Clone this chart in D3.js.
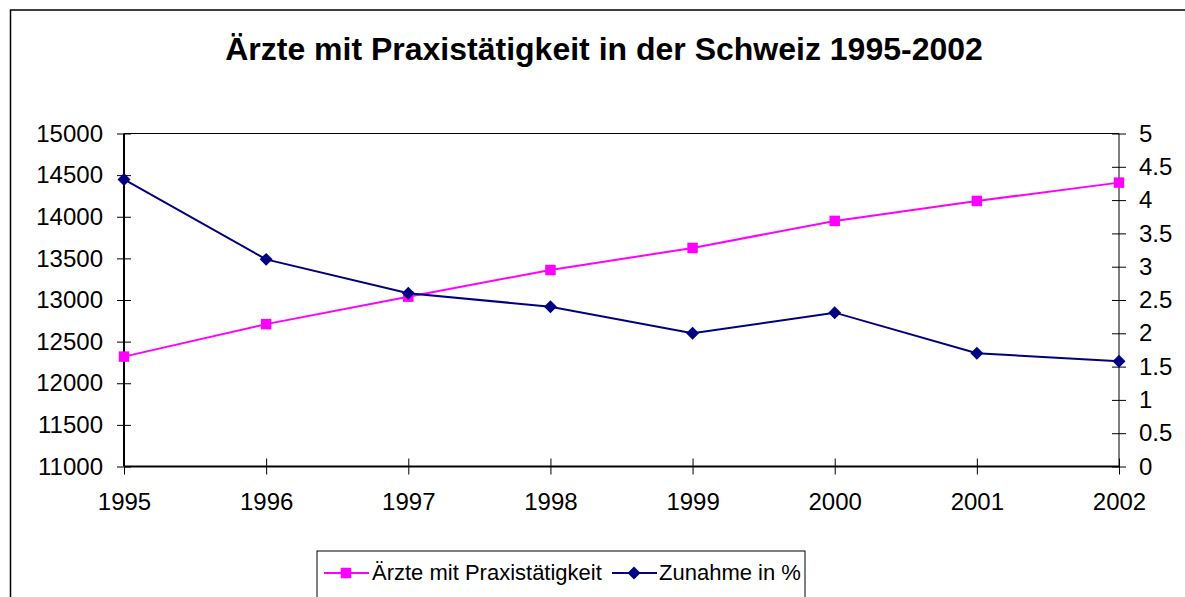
<!DOCTYPE html>
<meta charset="utf-8">
<style>
 body { margin: 0; background: #fff; }
 svg text { font-family: "Liberation Sans", Arial, sans-serif; fill: #000; }
 .axis path, .axis line { stroke: #000; }
</style>
<svg class="chart"></svg>
<script src="https://cdn.jsdelivr.net/npm/d3@7"></script>
<script>
 var years = [1995, 1996, 1997, 1998, 1999, 2000, 2001, 2002];
 var aerzte = [12320, 12710, 13040, 13360, 13625, 13950, 14190, 14410];
 var zunahme = [4.31, 3.11, 2.60, 2.40, 2.00, 2.31, 1.70, 1.58];
 var leftTicks = [11000, 11500, 12000, 12500, 13000, 13500, 14000, 14500, 15000];
 var rightTicks = [0, 0.5, 1, 1.5, 2, 2.5, 3, 3.5, 4, 4.5, 5];

 var width = 1185, height = 597;
 var pLeft = 124, pRight = 1119, pTop = 133.5, pBottom = 466.5;

 var svg = d3.select(".chart").attr("width", width).attr("height", height);

 // outer chart border
 svg.append("rect").attr("x", 10.5).attr("y", 10).attr("width", 1200).attr("height", 700)
    .attr("fill", "none").attr("stroke", "#000").attr("stroke-width", 1.5);

 svg.append("text").attr("x", 604).attr("y", 60).attr("text-anchor", "middle")
    .style("font-size", "32px").style("font-weight", "bold")
    .text("Ärzte mit Praxistätigkeit in der Schweiz 1995-2002");

 var x = d3.scalePoint().domain(years).range([pLeft, pRight]);
 var yL = d3.scaleLinear().domain([11000, 15000]).range([pBottom, pTop]);
 var yR = d3.scaleLinear().domain([0, 5]).range([pBottom, pTop]);

 // top border of plot area
 svg.append("line").attr("x1", pLeft).attr("x2", pRight).attr("y1", pTop).attr("y2", pTop)
    .attr("stroke", "#000").attr("stroke-width", 1);

 function crossTicks(g) {
     g.selectAll(".tick line").each(function() {
         var l = d3.select(this);
         var x2 = +l.attr("x2") || 0, y2 = +l.attr("y2") || 0;
         l.attr("x1", -x2).attr("y1", -y2);
     });
 }

 var gL = svg.append("g").attr("class", "axis").attr("transform", "translate(" + pLeft + ",0)")
    .call(d3.axisLeft(yL).tickValues(leftTicks).tickSize(7).tickPadding(14).tickFormat(d3.format("d")));
 crossTicks(gL);
 gL.select(".domain").attr("stroke-width", 2).attr("d", "M0," + pTop + "V" + pBottom);
 gL.selectAll("text").style("font-size", "24px");

 var gR = svg.append("g").attr("class", "axis").attr("transform", "translate(" + pRight + ",0)")
    .call(d3.axisRight(yR).tickValues(rightTicks).tickSize(7).tickPadding(13).tickFormat(function(d) { return String(d); }));
 crossTicks(gR);
 gR.select(".domain").attr("d", "M0," + pTop + "V" + pBottom);
 gR.selectAll("text").style("font-size", "24px");

 var gX = svg.append("g").attr("class", "axis").attr("transform", "translate(0," + pBottom + ")")
    .call(d3.axisBottom(x).tickSize(8).tickPadding(18));
 crossTicks(gX);
 gX.select(".domain").attr("stroke-width", 2).attr("d", "M" + pLeft + ",0H" + pRight);
 gX.selectAll("text").style("font-size", "24px");

 var pink = "#ff00ff", navy = "#000080";

 var lineL = d3.line().x(function(d, i) { return x(years[i]); }).y(function(d) { return yL(d); });
 var lineR = d3.line().x(function(d, i) { return x(years[i]); }).y(function(d) { return yR(d); });

 svg.append("path").datum(aerzte).attr("d", lineL).attr("fill", "none").attr("stroke", pink).attr("stroke-width", 2);
 svg.append("path").datum(zunahme).attr("d", lineR).attr("fill", "none").attr("stroke", navy).attr("stroke-width", 2);

 var square = d3.symbol().type(d3.symbolSquare).size(110);
 // excel style diamond = square turned 45 degrees
 var diamond = d3.symbol().type(d3.symbolSquare).size(84);

 svg.selectAll(".sq").data(aerzte).enter().append("path")
    .attr("d", square).attr("fill", pink)
    .attr("transform", function(d, i) { return "translate(" + x(years[i]) + "," + yL(d) + ")"; });
 svg.selectAll(".dm").data(zunahme).enter().append("path")
    .attr("d", diamond).attr("fill", navy)
    .attr("transform", function(d, i) { return "translate(" + x(years[i]) + "," + yR(d) + ") rotate(45)"; });

 // legend
 var lg = svg.append("g");
 lg.append("rect").attr("x", 317).attr("y", 551).attr("width", 488).attr("height", 80)
    .attr("fill", "#fff").attr("stroke", "#000").attr("stroke-width", 1);
 var ly = 573;
 lg.append("line").attr("x1", 324).attr("x2", 369).attr("y1", ly).attr("y2", ly).attr("stroke", pink).attr("stroke-width", 2);
 lg.append("path").attr("d", square).attr("fill", pink).attr("transform", "translate(346," + ly + ")");
 lg.append("text").attr("x", 372).attr("y", ly + 7).style("font-size", "22px").text("Ärzte mit Praxistätigkeit");
 lg.append("line").attr("x1", 612).attr("x2", 657).attr("y1", ly).attr("y2", ly).attr("stroke", navy).attr("stroke-width", 2);
 lg.append("path").attr("d", diamond).attr("fill", navy).attr("transform", "translate(634," + ly + ") rotate(45)");
 lg.append("text").attr("x", 659).attr("y", ly + 7).style("font-size", "22px").text("Zunahme in %");
</script>
